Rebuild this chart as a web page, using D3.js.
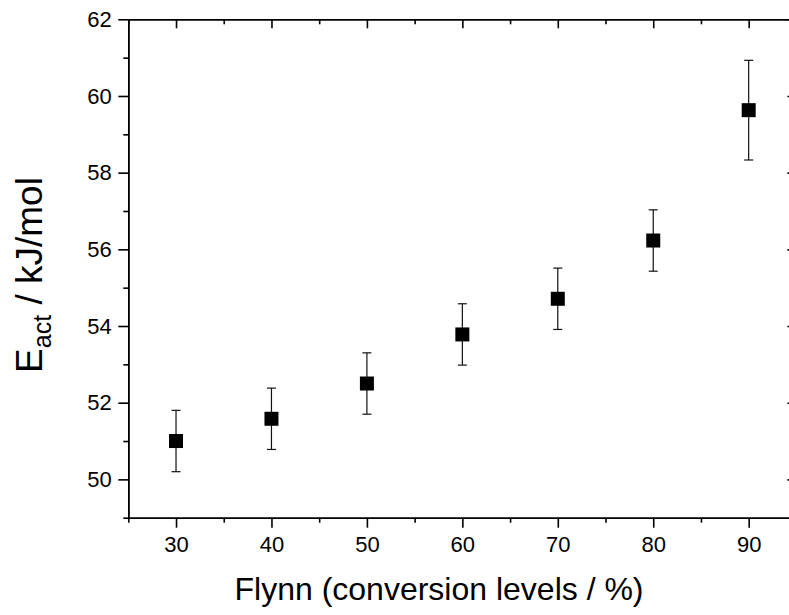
<!DOCTYPE html>
<html>
<head>
<meta charset="utf-8">
<script src="https://cdn.jsdelivr.net/npm/d3@7"></script>
<style>
  body { margin: 0; background: #fff; }
  svg { display: block; overflow: hidden; }
  text { font-family: Arial, "Liberation Sans", sans-serif; fill: #000; }
</style>
</head>
<body>
<div id="chart"></div>
<script>
// Activation energy (Flynn method) per conversion level
const conversion = [30, 40, 50, 60, 70, 80, 90];
const eAct = [51.0, 51.58, 52.5, 53.78, 54.71, 56.23, 59.63];
const eErr = [0.8, 0.8, 0.8, 0.8, 0.8, 0.8, 1.3];

const xMajor = [30, 40, 50, 60, 70, 80, 90];
const xMinor = [25, 35, 45, 55, 65, 75, 85, 95];
const yMajor = [50, 52, 54, 56, 58, 60, 62];
const yMinor = [49, 51, 53, 55, 57, 59, 61];

const W = 789, H = 615;
const margin = { top: 19.3, right: -7.4, bottom: 97.3, left: 128.3 };
const width = W - margin.left - margin.right,
      height = H - margin.top - margin.bottom;

const svg = d3.select("#chart")
    .append("svg")
    .attr("width", W)
    .attr("height", H);

const g = svg.append("g")
    .attr("transform", `translate(${margin.left},${margin.top})`);

// Scales
const x = d3.scaleLinear().domain([25, 95]).range([0, width]);
const y = d3.scaleLinear().domain([49, 62]).range([height, 0]);

const axisStyle = sel => {
    sel.select(".domain").attr("stroke", "#000").attr("stroke-width", 1.6);
    sel.selectAll(".tick line").attr("stroke", "#000").attr("stroke-width", 1.6);
};

// Bottom axis (outward ticks)
g.append("g")
    .attr("transform", `translate(0,${height})`)
    .call(d3.axisBottom(x).tickValues(xMajor).tickSize(10).tickPadding(9).tickSizeOuter(0))
    .call(axisStyle)
    .call(a => a.selectAll("text").attr("font-size", 22));
g.append("g")
    .attr("transform", `translate(0,${height})`)
    .call(d3.axisBottom(x).tickValues(xMinor).tickSize(5).tickFormat("").tickSizeOuter(0))
    .call(axisStyle);

// Left axis (outward ticks)
g.append("g")
    .call(d3.axisLeft(y).tickValues(yMajor).tickSize(10).tickPadding(6.5).tickSizeOuter(0))
    .call(axisStyle)
    .call(a => a.selectAll("text").attr("font-size", 22));
g.append("g")
    .call(d3.axisLeft(y).tickValues(yMinor).tickSize(5).tickFormat("").tickSizeOuter(0))
    .call(axisStyle);

// Top axis (inward ticks)
g.append("g")
    .call(d3.axisTop(x).tickValues(xMajor).tickSize(-9).tickFormat("").tickSizeOuter(0))
    .call(axisStyle);
g.append("g")
    .call(d3.axisTop(x).tickValues(xMinor).tickSize(-5).tickFormat("").tickSizeOuter(0))
    .call(axisStyle);

// Right axis (inward ticks)
g.append("g")
    .attr("transform", `translate(${width},0)`)
    .call(d3.axisRight(y).tickValues(yMajor).tickSize(-9).tickFormat("").tickSizeOuter(0))
    .call(axisStyle);
g.append("g")
    .attr("transform", `translate(${width},0)`)
    .call(d3.axisRight(y).tickValues(yMinor).tickSize(-5).tickFormat("").tickSizeOuter(0))
    .call(axisStyle);

// Data
const pts = conversion.map((c, i) => ({ x: c, y: eAct[i], e: eErr[i] }));
const capW = 4.5, box = 14;

const bars = g.append("g").selectAll("g")
    .data(pts)
    .join("g")
    .attr("stroke", "#111")
    .attr("stroke-width", 1.2);

bars.append("line")
    .attr("x1", d => x(d.x)).attr("x2", d => x(d.x))
    .attr("y1", d => y(d.y + d.e)).attr("y2", d => y(d.y - d.e));
bars.append("line")
    .attr("x1", d => x(d.x) - capW).attr("x2", d => x(d.x) + capW)
    .attr("y1", d => y(d.y + d.e)).attr("y2", d => y(d.y + d.e));
bars.append("line")
    .attr("x1", d => x(d.x) - capW).attr("x2", d => x(d.x) + capW)
    .attr("y1", d => y(d.y - d.e)).attr("y2", d => y(d.y - d.e));

g.append("g").selectAll("rect")
    .data(pts)
    .join("rect")
    .attr("x", d => x(d.x) - box / 2)
    .attr("y", d => y(d.y) - box / 2)
    .attr("width", box)
    .attr("height", box)
    .attr("fill", "#000");

// Axis titles
svg.append("text")
    .attr("x", 439)
    .attr("y", 600)
    .attr("text-anchor", "middle")
    .attr("font-size", 32)
    .text("Flynn (conversion levels / %)");

const yt = svg.append("text")
    .attr("transform", "translate(42,275) rotate(-90)")
    .attr("text-anchor", "middle")
    .attr("font-size", 37);
yt.append("tspan").text("E");
yt.append("tspan").attr("font-size", 25).attr("dy", 9).text("act");
yt.append("tspan").attr("dy", -9).text(" / kJ/mol");
</script>
</body>
</html>
